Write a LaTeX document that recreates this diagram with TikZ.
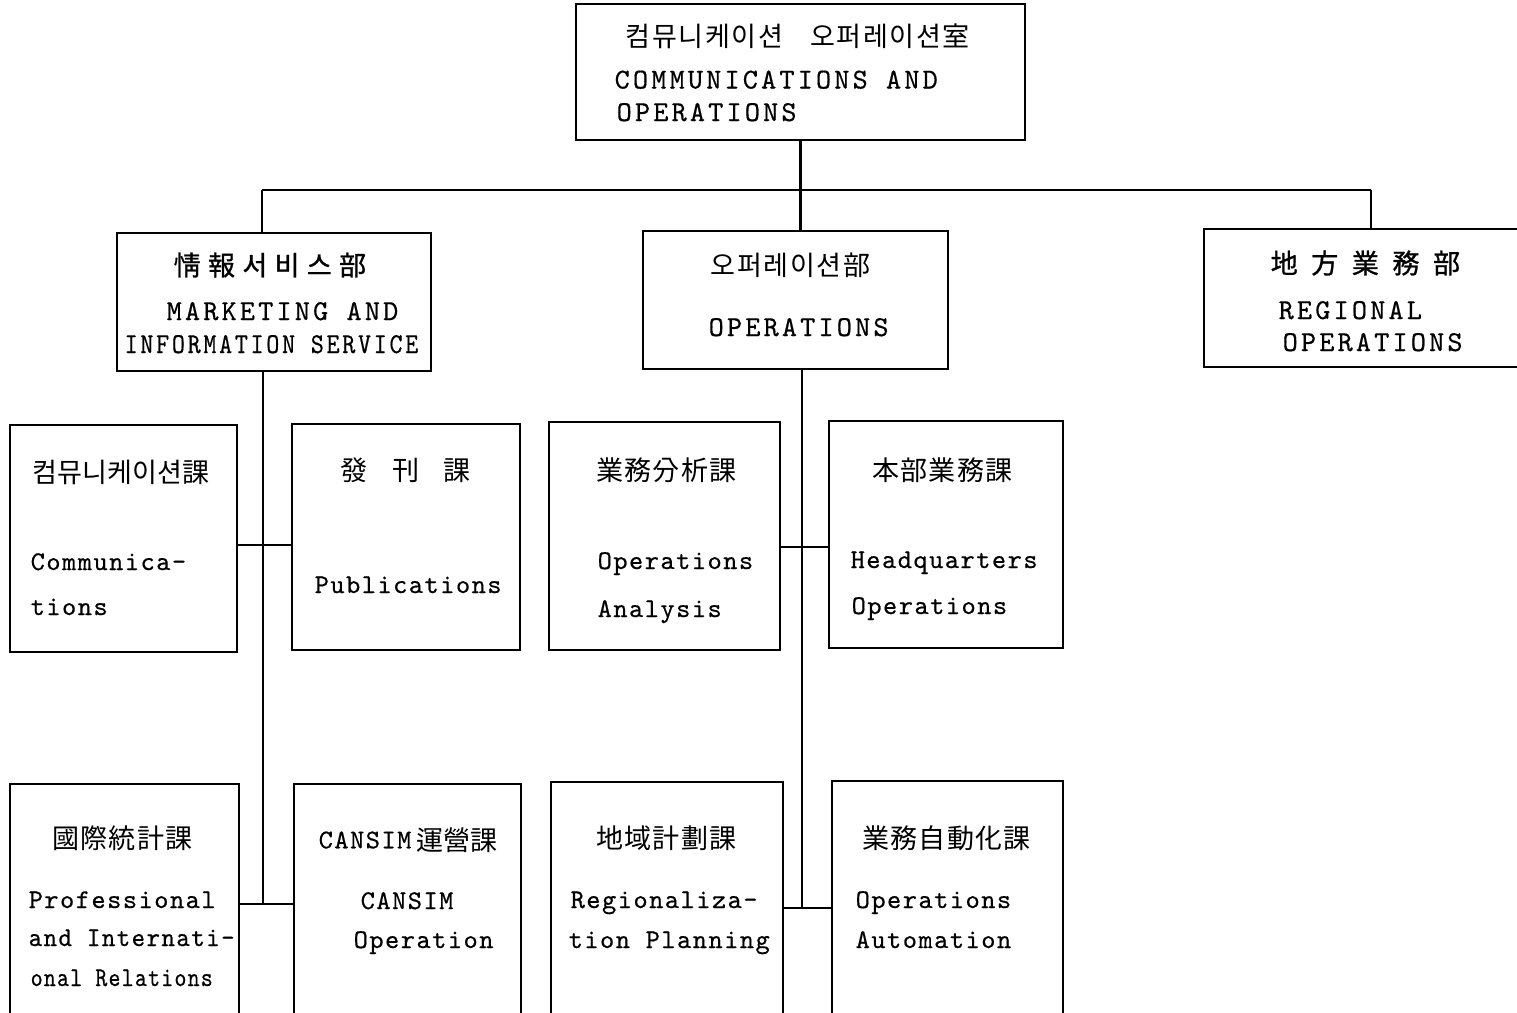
\documentclass[tikz,border=0pt]{standalone}
\usepackage{fontspec}
\usepackage{graphicx}
\newfontfamily\kr{Noto Sans CJK KR}
\newfontfamily\tw{lmmono10-regular.otf}
\usetikzlibrary{positioning,calc}
\newcommand{\kspread}[2]{{\addfontfeatures{LetterSpace=#1}#2}}
\newcommand{\kbold}[2]{{\addfontfeatures{LetterSpace=#1,FakeBold=1}#2}}
\tikzset{
  unit/.style={draw, line width=0.75pt, inner sep=0pt},
  link/.style={line width=0.75pt},
  etxt/.style={anchor=base west, inner sep=0pt,
    font=\tw\fontsize{8.2}{10}\selectfont\addfontfeatures{LetterSpace=11,FakeBold=0.5}},
  stxt/.style={anchor=base west, inner sep=0pt,
    font=\tw\fontsize{7.7}{9}\selectfont\addfontfeatures{LetterSpace=5.5,FakeBold=0.5}},
  ktxt/.style={anchor=west, inner sep=0pt, font=\kr\fontsize{7.7}{9}\selectfont},
}

\begin{document}
\begin{tikzpicture}
  \useasboundingbox (0,0) rectangle (15.17,-10.12);
  \clip (0,0) rectangle (15.17,-10.12);
  % boxes
  \node[unit, minimum width=4.49cm, minimum height=1.36cm] (top) at (8.005,-0.72) {};
  \node[unit, minimum width=3.14cm, minimum height=1.38cm] (mis) at (2.74,-3.02) {};
  \node[unit, minimum width=3.05cm, minimum height=1.38cm] (ops) at (7.955,-3.00) {};
  \node[unit, minimum width=3.56cm, minimum height=1.38cm] (reg) at (13.82,-2.98) {};
  \node[unit, minimum width=2.27cm, minimum height=2.27cm] (comm) at (1.235,-5.385) {};
  \node[unit, minimum width=2.28cm, minimum height=2.26cm] (pub) at (4.06,-5.37) {};
  \node[unit, minimum width=2.31cm, minimum height=2.28cm] (oa) at (6.645,-5.36) {};
  \node[unit, minimum width=2.34cm, minimum height=2.27cm] (hq) at (9.46,-5.345) {};
  \node[unit, minimum width=2.29cm, minimum height=2.56cm] (prof) at (1.245,-9.12) {};
  \node[unit, minimum width=2.27cm, minimum height=2.56cm] (cansim) at (4.075,-9.12) {};
  \node[unit, minimum width=2.32cm, minimum height=2.58cm] (rplan) at (6.67,-9.11) {};
  \node[unit, minimum width=2.31cm, minimum height=2.59cm] (auto) at (9.475,-9.105) {};

  % connectors
  \coordinate (busL) at (2.62,-1.90);
  \coordinate (busR) at (13.71,-1.90);
  \coordinate (misU) at (2.63,-5.45);
  \coordinate (misT) at (2.63,-9.04);
  \coordinate (opsU) at (8.01,-5.47);
  \coordinate (opsT) at (8.02,-9.08);
  \draw[link] (top.south) -- (top.south |- ops.north);
  \draw[link] (busL) -- (busR);
  \draw[link] (busL) -- (busL |- mis.north);
  \draw[link] (busR) -- (busR |- reg.north);
  \draw[link] (mis.south -| misT) -- (misT);
  \draw[link] (comm.east |- misU) -- (pub.west |- misU);
  \draw[link] (prof.east |- misT) -- (cansim.west |- misT);
  \draw[link] (ops.south -| opsT) -- (opsT);
  \draw[link] (oa.east |- opsU) -- (hq.west |- opsU);
  \draw[link] (rplan.east |- opsT) -- (auto.west |- opsT);

  % texts
  \node[ktxt] (topK) at (6.25,-0.36) {\kspread{6}{컴뮤니케이션\quad 오퍼레이션室}};
  \node[etxt] (topE1) at (6.14,-0.885) {COMMUNICATIONS AND};
  \node[etxt] (topE2) at (6.16,-1.21) {OPERATIONS};

  \node[ktxt] (misK) at (1.73,-2.65) {\kbold{27}{情報서비스部}};
  \node[etxt] (misE1) at (1.66,-3.20) {MARKETING AND};
  \node[etxt] (misE2) at (1.24,-3.53) {\scalebox{0.86}[1]{INFORMATION SERVICE}};

  \node[ktxt] (opsK) at (7.10,-2.65) {\kspread{6}{오퍼레이션部}};
  \node[etxt] (opsE) at (7.08,-3.36) {OPERATIONS};

  \node[ktxt] (regK) at (12.70,-2.63) {\kbold{50}{地方業務部}};
  \node[etxt] (regE1) at (12.78,-3.19) {REGIONAL};
  \node[etxt] (regE2) at (12.82,-3.51) {OPERATIONS};

  \node[ktxt] (commK) at (0.32,-4.72) {컴뮤니케이션課};
  \node[stxt] (commE1) at (0.30,-5.70) {Communica-};
  \node[stxt] (commE2) at (0.30,-6.15) {tions};

  \node[ktxt] (pubK) at (3.40,-4.70) {\kspread{90}{發刊課}};
  \node[stxt] (pubE) at (3.14,-5.93) {Publications};

  \node[ktxt] (oaK) at (5.96,-4.70) {\kspread{4}{業務分析課}};
  \node[stxt] (oaE1) at (5.97,-5.69) {Operations};
  \node[stxt] (oaE2) at (5.97,-6.17) {Analysis};

  \node[ktxt] (hqK) at (8.72,-4.70) {\kspread{4}{本部業務課}};
  \node[stxt] (hqE1) at (8.50,-5.68) {Headquarters};
  \node[stxt] (hqE2) at (8.51,-6.14) {Operations};

  \node[ktxt] (profK) at (0.52,-8.38) {\kspread{4}{國際統計課}};
  \node[stxt] (profE1) at (0.28,-9.08) {Professional};
  \node[stxt] (profE2) at (0.28,-9.46) {\scalebox{0.95}[1]{and Internati-}};
  \node[stxt] (profE3) at (0.30,-9.86) {\scalebox{0.84}[1]{onal Relations}};

  \node[stxt, anchor=west] (cansimL) at (3.18,-8.40) {CANSIM};
  \node[ktxt, right=1pt of cansimL] (cansimK) {運營課};
  \node[stxt] (cansimE1) at (3.60,-9.09) {CANSIM};
  \node[stxt] (cansimE2) at (3.53,-9.48) {Operation};

  \node[ktxt] (rplanK) at (5.96,-8.38) {\kspread{4}{地域計劃課}};
  \node[stxt] (rplanE1) at (5.70,-9.08) {Regionaliza-};
  \node[stxt] (rplanE2) at (5.68,-9.48) {tion Planning};

  \node[ktxt] (autoK) at (8.62,-8.38) {\kspread{4}{業務自動化課}};
  \node[stxt] (autoE1) at (8.55,-9.08) {Operations};
  \node[stxt] (autoE2) at (8.55,-9.48) {Automation};
\end{tikzpicture}
\end{document}
